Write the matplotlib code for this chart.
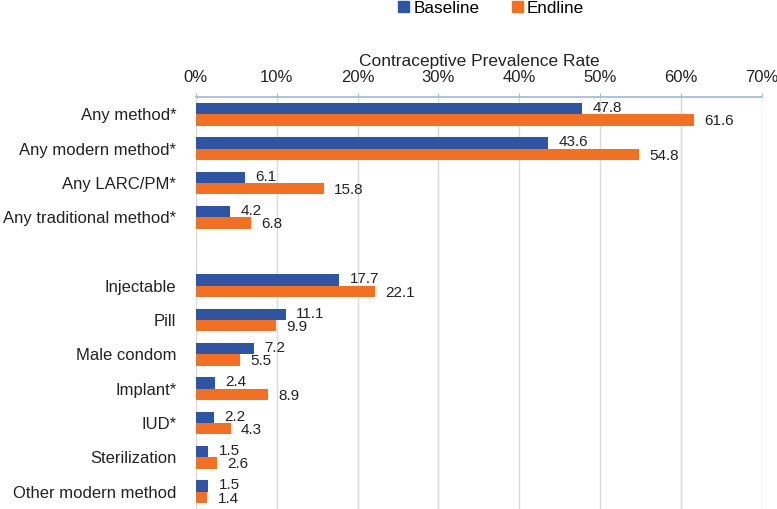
import matplotlib.pyplot as plt
import numpy as np
from matplotlib.patches import Patch

# Data
categories = ["Any method*", "Any modern method*", "Any LARC/PM*", "Any traditional method*",
              "Injectable", "Pill", "Male condom", "Implant*", "IUD*", "Sterilization",
              "Other modern method"]
baseline = [47.8, 43.6, 6.1, 4.2, 17.7, 11.1, 7.2, 2.4, 2.2, 1.5, 1.5]
endline = [61.6, 54.8, 15.8, 6.8, 22.1, 9.9, 5.5, 8.9, 4.3, 2.6, 1.4]
tick_vals = [0, 10, 20, 30, 40, 50, 60, 70]

blue = "#2E54A4"
orange = "#F36F21"

plt.rcParams['font.family'] = ['Liberation Sans', 'DejaVu Sans']

# one empty slot between the summary rows and the method rows
ypos = np.array([0, 1, 2, 3, 5, 6, 7, 8, 9, 10, 11])
h = 0.33

fig = plt.figure(figsize=(7.77, 5.09), dpi=100)
ax = fig.add_axes([0.252, 0.0, 0.7285, 0.809])

ax.barh(ypos - h / 2, baseline, height=h, color=blue, zorder=3)
ax.barh(ypos + h / 2, endline, height=h, color=orange, zorder=3)

for y, b, e in zip(ypos, baseline, endline):
    ax.text(b + 1.3, y - h / 2 - 0.02, f"{b:.1f}", va="center", ha="left", fontsize=11, color="#222222")
    ax.text(e + 1.3, y + h / 2 + 0.04, f"{e:.1f}", va="center", ha="left", fontsize=11, color="#222222")

ax.set_xlim(0, 70)
ax.set_ylim(11.51, -0.5)

ax.xaxis.tick_top()
ax.xaxis.set_label_position("top")
ax.set_xticks(tick_vals)
ax.set_xticklabels([f"{v}%" for v in tick_vals], fontsize=12, color="#222222")
ax.tick_params(axis="x", direction="out", length=3, color="#9DB8D9", pad=5.5)
ax.set_xlabel("Contraceptive Prevalence Rate", fontsize=12.5, color="#222222", labelpad=3.5)

ax.set_yticks(ypos)
ax.set_yticklabels(categories, fontsize=12, color="#222222")
ax.tick_params(axis="y", length=0, pad=14)

ax.grid(axis="x", color="#D9D9D9", linewidth=1, zorder=0)
for s in ["right", "bottom", "left"]:
    ax.spines[s].set_visible(False)
ax.spines["top"].set_color("#9DB8D9")
ax.spines["top"].set_linewidth(1.2)

handles = [Patch(color=blue, label="Baseline"), Patch(color=orange, label="Endline")]
fig.legend(handles=handles, loc="center", bbox_to_anchor=(0.632, 0.984), ncol=2, frameon=False,
           fontsize=12.3, handlelength=0.65, handleheight=0.65, handletextpad=0.25, columnspacing=1.9)

plt.savefig("out.png", dpi=100, facecolor="w")
